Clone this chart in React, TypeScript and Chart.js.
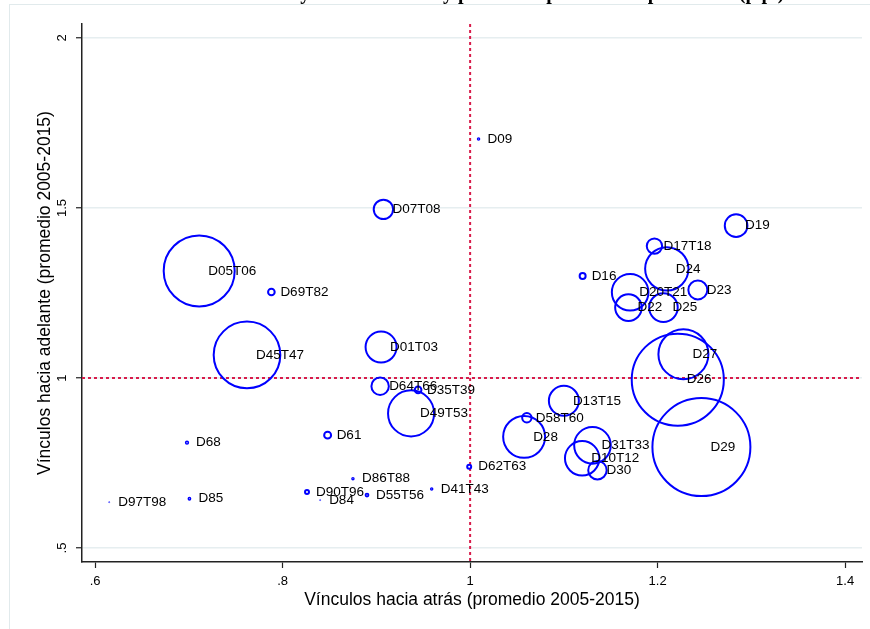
import React, { useEffect, useRef } from "react";
import { Chart, registerables } from "chart.js";

Chart.register(...registerables);

// ---- Data ----
const sectors = [
  "D01T03", "D05T06", "D07T08", "D09", "D10T12", "D13T15", "D16", "D17T18", "D19",
  "D20T21", "D22", "D23", "D24", "D25", "D26", "D27", "D28", "D29", "D30", "D31T33",
  "D35T39", "D41T43", "D45T47", "D49T53", "D55T56", "D58T60", "D61", "D62T63",
  "D64T66", "D68", "D69T82", "D84", "D85", "D86T88", "D90T96", "D97T98",
];
// Vínculos hacia atrás (eje x)
const backward = [
  0.905, 0.711, 0.9075, 1.009, 1.1195, 1.100, 1.120, 1.1966, 1.2837,
  1.1707, 1.1689, 1.2429, 1.2098, 1.2062, 1.2215, 1.2275, 1.0576, 1.2467, 1.1358, 1.1305,
  0.9445, 0.959, 0.762, 0.937, 0.890, 1.0605, 0.848, 0.999,
  0.904, 0.698, 0.788, 0.840, 0.7006, 0.875, 0.826, 0.615,
];
// Vínculos hacia adelante (eje y)
const forward = [
  1.091, 1.315, 1.496, 1.703, 0.764, 0.933, 1.300, 1.388, 1.448,
  1.252, 1.207, 1.259, 1.321, 1.207, 0.995, 1.070, 0.827, 0.797, 0.729, 0.802,
  0.965, 0.674, 1.068, 0.896, 0.656, 0.883, 0.832, 0.739,
  0.976, 0.810, 1.253, 0.641, 0.645, 0.704, 0.665, 0.635,
];
// Peso (tamaño de burbuja, proporcional al área)
const weights = [
  2.4, 12.6, 0.94, 0.012, 2.96, 2.25, 0.09, 0.59, 1.28,
  3.35, 1.77, 0.9, 4.7, 2.04, 21.2, 6.25, 4.4, 24.0, 0.85, 3.35,
  0.11, 0.012, 11.1, 5.3, 0.022, 0.22, 0.12, 0.04,
  0.76, 0.018, 0.11, 0.003, 0.014, 0.012, 0.04, 0.003,
];

const xTicks = [0.6, 0.8, 1, 1.2, 1.4];
const xTickLabels = [".6", ".8", "1", "1.2", "1.4"];
const yTicks = [0.5, 1, 1.5, 2];
const yTickLabels = [".5", "1", "1.5", "2"];

const xTitle = "Vínculos hacia atrás (promedio 2005-2015)";
const yTitle = "Vínculos hacia adelante (promedio 2005-2015)";
const chartTitle =
  "Sectores clave: vínculos hacia atrás y hacia adelante y peso en la producción por sector (p.p.)";
const refX = 1;
const refY = 1;

const SANS = '"Liberation Sans", Arial, Helvetica, sans-serif';

function zeroPadding(s: any) {
  s.paddingLeft = 0;
  s.paddingRight = 0;
  s.paddingTop = 0;
  s.paddingBottom = 0;
}

export default function App() {
  const canvasRef = useRef<HTMLCanvasElement | null>(null);

  useEffect(() => {
    document.body.style.margin = "0";
    const canvas = canvasRef.current;
    if (!canvas) return;

    const framePlugin = {
      id: "frame",
      beforeDraw(chart: any) {
        const ctx = chart.ctx;
        ctx.save();
        ctx.fillStyle = "#ffffff";
        ctx.fillRect(0, 0, chart.width, chart.height);
        ctx.strokeStyle = "#e1eaec";
        ctx.lineWidth = 1;
        ctx.strokeRect(9.5, 4.5, chart.width + 20, chart.height + 20);
        ctx.font = 'bold 20px "Liberation Serif", "Times New Roman", serif';
        ctx.fillStyle = "#000";
        ctx.textAlign = "center";
        ctx.textBaseline = "alphabetic";
        ctx.fillText(chartTitle, 390, -1.5);
        ctx.restore();
      },
    };

    const refLinesPlugin = {
      id: "refLines",
      beforeDatasetsDraw(chart: any) {
        const { ctx, chartArea } = chart;
        const px = chart.scales.x.getPixelForValue(refX);
        const py = chart.scales.y.getPixelForValue(refY);
        ctx.save();
        ctx.strokeStyle = "#d81b4a";
        ctx.lineWidth = 2;
        ctx.setLineDash([3, 3]);
        ctx.beginPath();
        ctx.moveTo(px, chartArea.top);
        ctx.lineTo(px, chartArea.bottom);
        ctx.moveTo(chartArea.left, py);
        ctx.lineTo(chartArea.right, py);
        ctx.stroke();
        ctx.restore();
      },
    };

    const labelPlugin = {
      id: "pointLabels",
      afterDatasetsDraw(chart: any) {
        const ctx = chart.ctx;
        const meta = chart.getDatasetMeta(0);
        ctx.save();
        ctx.font = "13.5px " + SANS;
        ctx.fillStyle = "#000";
        ctx.textAlign = "left";
        ctx.textBaseline = "middle";
        meta.data.forEach((el: any, i: number) => {
          ctx.fillText(sectors[i], el.x + 9, el.y);
        });
        ctx.restore();
      },
    };

    const points = sectors.map((s, i) => ({
      x: backward[i],
      y: forward[i],
      r: 10 * Math.sqrt(weights[i]),
    }));

    const chart = new Chart(canvas, {
      type: "bubble",
      data: {
        datasets: [
          {
            data: points,
            borderColor: "#0000ff",
            backgroundColor: "rgba(0,0,0,0)",
            borderWidth: (c: any) => Math.min(2, ((c.raw && c.raw.r) || 2) * 1.2),
            clip: false,
          },
        ],
      },
      options: {
        responsive: false,
        animation: false,
        events: [],
        layout: { autoPadding: false, padding: { left: 0, right: 8, top: 24, bottom: 0 } },
        plugins: {
          legend: { display: false },
          tooltip: { enabled: false },
        },
        scales: {
          x: {
            type: "linear",
            min: 0.586,
            max: 1.418,
            afterBuildTicks: (ax: any) => {
              ax.ticks = xTicks.map((v) => ({ value: v }));
            },
            afterFit: (s: any) => {
              s.height = 67;
              zeroPadding(s);
            },
            ticks: {
              callback: (v: any) => xTickLabels[xTicks.indexOf(Number(v))] ?? "",
              font: { family: SANS, size: 13 },
              color: "#000",
              padding: 6,
              maxRotation: 0,
              minRotation: 0,
            },
            grid: {
              display: true,
              drawOnChartArea: false,
              drawTicks: true,
              tickLength: 6,
              tickColor: "#222",
              tickWidth: 1.2,
            },
            border: { display: true, color: "#222", width: 1.5 },
            title: {
              display: true,
              text: xTitle,
              font: { family: SANS, size: 17.5 },
              color: "#000",
              padding: { top: 0, bottom: 18.5 },
            },
          },
          y: {
            type: "linear",
            min: 0.459,
            max: 2.041,
            afterBuildTicks: (ax: any) => {
              ax.ticks = yTicks.map((v) => ({ value: v }));
            },
            afterFit: (s: any) => {
              s.width = 82;
              zeroPadding(s);
            },
            ticks: {
              callback: (v: any) => yTickLabels[yTicks.indexOf(Number(v))] ?? "",
              font: { family: SANS, size: 13 },
              color: "#000",
              padding: 5,
              minRotation: 90,
              maxRotation: 90,
              crossAlign: "center",
            },
            grid: {
              display: true,
              drawOnChartArea: true,
              drawTicks: true,
              tickLength: 6,
              color: "#e6eef0",
              lineWidth: 1.5,
              tickColor: "#222",
              tickWidth: 1.2,
            },
            border: { display: true, color: "#222", width: 1.5 },
            title: {
              display: true,
              text: yTitle,
              font: { family: SANS, size: 17.5 },
              color: "#000",
              padding: { top: 34.5, bottom: 0 },
            },
          },
        },
      } as any,
      plugins: [framePlugin, refLinesPlugin, labelPlugin],
    });

    return () => chart.destroy();
  }, []);

  return (
    <div style={{ width: 870, height: 629 }}>
      <canvas ref={canvasRef} width={870} height={629} />
    </div>
  );
}
